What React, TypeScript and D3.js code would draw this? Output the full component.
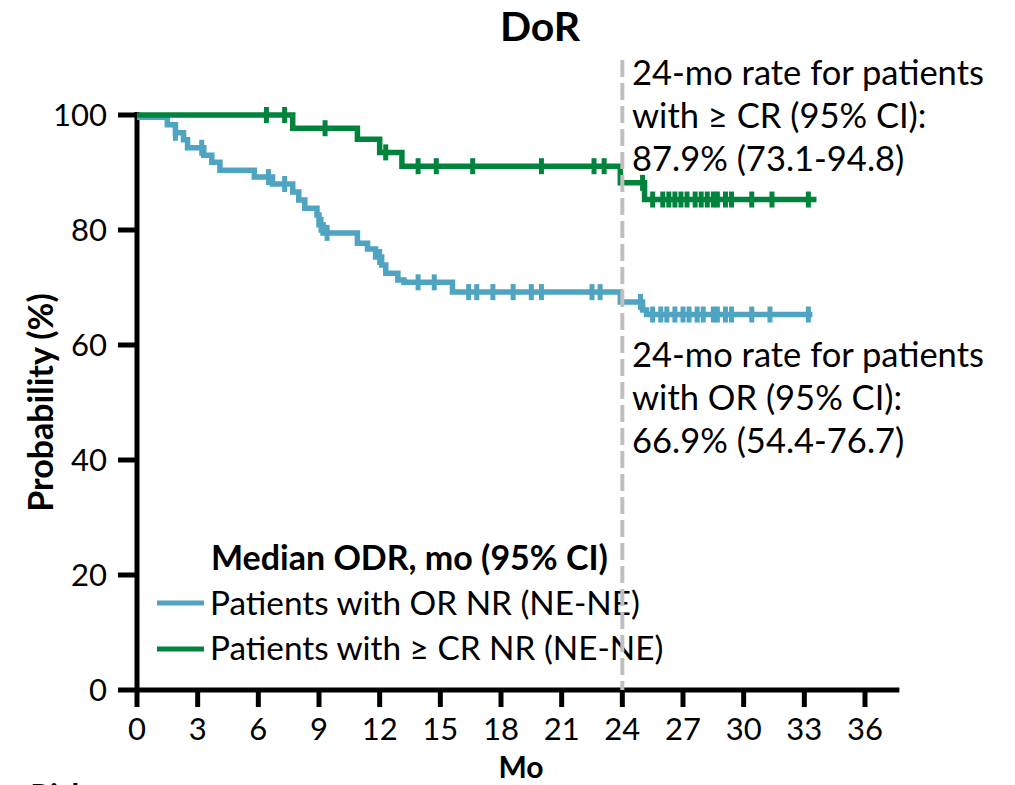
import React, { useEffect, useRef } from 'react';
import * as d3 from 'd3';

// axis ticks
const xTicks = [0, 3, 6, 9, 12, 15, 18, 21, 24, 27, 30, 33, 36];
const yTicks = [0, 20, 40, 60, 80, 100];

// Patients with OR: [month, probability after event]
const orSteps = [
  [0, 99.6], [1.5, 98.3], [1.9, 96.9], [2.3, 95.7], [2.5, 94.3], [3.3, 93.0], [3.7, 91.8],
  [4.1, 90.4], [5.8, 89.2], [6.7, 88.0], [7.7, 86.6], [8.0, 85.2], [8.3, 83.8], [8.9, 82.6],
  [9.0, 80.9], [9.2, 79.5], [10.9, 77.7], [11.4, 76.7], [11.8, 75.3], [12.1, 73.9],
  [12.3, 72.5], [12.9, 71.3], [13.2, 70.9], [15.6, 69.2], [23.9, 67.5], [25.0, 66.1], [25.2, 65.3],
];
const orCensored = [
  1.9, 3.2, 6.5, 7.3, 9.1, 9.4, 12.0, 13.9, 14.7, 16.4, 16.8, 17.6, 18.6, 19.5, 20.0, 22.5,
  22.9, 24.9, 25.5, 25.9, 26.2, 26.6, 27.0, 27.3, 27.7, 28.0, 28.5, 28.7, 29.1, 29.4, 30.4,
  31.3, 33.2,
];
const orLastMonth = 33.4;

// Patients with >= CR
const crSteps = [
  [0, 100], [7.7, 97.7], [10.9, 95.8], [12.0, 93.5], [13.1, 91.1], [23.9, 88.2], [25.1, 85.3],
];
const crCensored = [
  6.4, 7.3, 9.3, 12.3, 13.9, 14.8, 16.6, 20.0, 22.6, 23.1, 25.0, 25.5, 26.0, 26.3, 26.6, 26.9,
  27.2, 27.6, 27.9, 28.2, 28.5, 28.7, 29.1, 29.4, 30.4, 31.4, 33.2,
];
const crLastMonth = 33.6;

const legendLabels = ['Patients with OR NR (NE-NE)', 'Patients with \u2265 CR NR (NE-NE)'];
const crNote = ['24-mo rate for patients', 'with \u2265 CR (95% CI):', '87.9% (73.1-94.8)'];
const orNote = ['24-mo rate for patients', 'with OR (95% CI):', '66.9% (54.4-76.7)'];

const BLUE = '#4ea4c1';
const GREEN = '#00843d';
const FONT = 'Lato, "Open Sans", sans-serif';

const App = () => {
  const svgRef = useRef(null);

  useEffect(() => {
    const svg = d3.select(svgRef.current);
    svg.selectAll('*').remove();

    const x = d3.scaleLinear().domain([0, 36]).range([137, 865]);
    const y = d3.scaleLinear().domain([0, 100]).range([690, 115]);

    const g = svg.append('g').style('font-family', FONT);

    // title
    g.append('text')
      .attr('x', 540).attr('y', 41)
      .attr('text-anchor', 'middle')
      .style('font-size', '41px').style('font-weight', 'bold')
      .text('DoR');

    // y axis
    g.append('line')
      .attr('x1', x(0)).attr('x2', x(0))
      .attr('y1', y(100) - 3).attr('y2', y(0) + 2)
      .attr('stroke', '#000').attr('stroke-width', 5);
    g.selectAll('.ytick').data(yTicks).enter().append('line')
      .attr('x1', x(0) - 19).attr('x2', x(0))
      .attr('y1', d => y(d)).attr('y2', d => y(d))
      .attr('stroke', '#000').attr('stroke-width', 5);
    g.selectAll('.ylab').data(yTicks).enter().append('text')
      .attr('x', x(0) - 30).attr('y', d => y(d) + 11)
      .attr('text-anchor', 'end')
      .style('font-size', '31px')
      .text(d => d);

    // x axis
    g.append('line')
      .attr('x1', x(0) - 2).attr('x2', x(37.7))
      .attr('y1', y(0)).attr('y2', y(0))
      .attr('stroke', '#000').attr('stroke-width', 5);
    g.selectAll('.xtick').data(xTicks).enter().append('line')
      .attr('x1', d => x(d)).attr('x2', d => x(d))
      .attr('y1', y(0)).attr('y2', y(0) + 17)
      .attr('stroke', '#000').attr('stroke-width', 5);
    g.selectAll('.xlab').data(xTicks).enter().append('text')
      .attr('x', d => x(d)).attr('y', y(0) + 50)
      .attr('text-anchor', 'middle')
      .style('font-size', '31px')
      .text(d => d);

    // axis titles
    g.append('text')
      .attr('x', 521).attr('y', 778)
      .attr('text-anchor', 'middle')
      .style('font-size', '30px').style('font-weight', 'bold')
      .text('Mo');
    g.append('text')
      .attr('transform', `translate(53,${y(50)}) rotate(-90)`)
      .attr('text-anchor', 'middle')
      .style('font-size', '34px').style('font-weight', 'bold')
      .text('Probability (%)');

    // number-at-risk heading, cut by the bottom edge as in the source
    g.append('text')
      .attr('x', 88).attr('y', 806)
      .attr('text-anchor', 'end')
      .style('font-size', '31px').style('font-weight', 'bold')
      .text('No. at Risk');

    const line = d3.line().x(d => x(d[0])).y(d => y(d[1])).curve(d3.curveStepAfter);

    const drawCurve = (steps, censored, lastMonth, color) => {
      const pts = [...steps, [lastMonth, steps[steps.length - 1][1]]];
      g.append('path')
        .datum(pts)
        .attr('fill', 'none')
        .attr('stroke', color)
        .attr('stroke-width', 5.5)
        .attr('d', line);
      const valueAt = t => {
        let v = steps[0][1];
        steps.forEach(s => { if (s[0] <= t) v = s[1]; });
        return v;
      };
      g.selectAll(null).data(censored).enter().append('line')
        .attr('x1', d => x(d)).attr('x2', d => x(d))
        .attr('y1', d => y(valueAt(d)) - 8).attr('y2', d => y(valueAt(d)) + 8)
        .attr('stroke', color)
        .attr('stroke-width', 5);
    };

    drawCurve(orSteps, orCensored, orLastMonth, BLUE);
    drawCurve(crSteps, crCensored, crLastMonth, GREEN);

    // annotations
    const note = (lines, y0) => {
      g.selectAll(null).data(lines).enter().append('text')
        .attr('x', 632).attr('y', (d, i) => y0 + i * 43)
        .style('font-size', '34.5px')
        .text(d => d);
    };
    note(crNote, 85);
    note(orNote, 367);

    // legend
    g.append('text')
      .attr('x', 211).attr('y', 570)
      .style('font-size', '34px').style('font-weight', 'bold')
      .text('Median ODR, mo (95% CI)');
    [BLUE, GREEN].forEach((c, i) => {
      g.append('line')
        .attr('x1', 157).attr('x2', 204)
        .attr('y1', 603 + i * 46).attr('y2', 603 + i * 46)
        .attr('stroke', c).attr('stroke-width', 5);
      g.append('text')
        .attr('x', 210).attr('y', 615 + i * 45)
        .style('font-size', '33.3px')
        .text(legendLabels[i]);
    });

    // 24-month reference line, drawn on top
    g.append('line')
      .attr('x1', x(24)).attr('x2', x(24))
      .attr('y1', 60).attr('y2', y(0))
      .attr('stroke', '#bfbfbf')
      .attr('stroke-width', 4)
      .attr('stroke-dasharray', '17,6');
  }, []);

  return (
    <svg
      ref={svgRef}
      width={1015}
      height={785}
      style={{ position: 'absolute', left: 0, top: 0, background: '#fff' }}
    />
  );
};

export default App;
